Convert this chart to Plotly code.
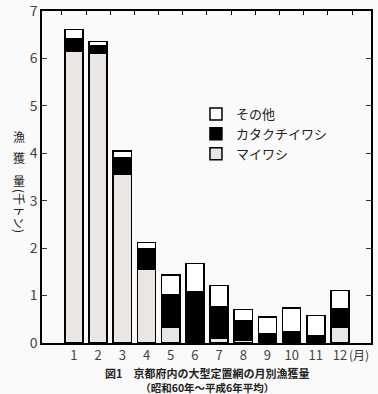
import plotly.graph_objects as go

months = [1, 2, 3, 4, 5, 6, 7, 8, 9, 10, 11, 12]
month_labels = ["1", "2", "3", "4", "5", "6", "7", "8", "9", "10", "11", "12"]
maiwashi = [6.15, 6.12, 3.55, 1.56, 0.34, 0.03, 0.10, 0.05, 0.04, 0.02, 0.01, 0.34]
katakuchi = [0.27, 0.14, 0.35, 0.42, 0.67, 1.05, 0.67, 0.42, 0.15, 0.22, 0.14, 0.39]
sonota = [0.19, 0.10, 0.15, 0.14, 0.42, 0.60, 0.44, 0.24, 0.36, 0.50, 0.43, 0.38]
y_ticks = [0, 1, 2, 3, 4, 5, 6, 7]
top_ticks = [0.5, 1.5, 2.5, 3.5, 4.5, 5.5, 6.5, 7.5, 8.5, 9.5, 10.5, 11.5, 12.5]

FONT = "Noto Sans CJK JP"
W, H = 378, 394
L, R, T, B = 42, 7, 11, 51

fig = go.Figure()
line = dict(color="black", width=1.5)
fig.add_trace(go.Bar(x=months, y=maiwashi, name="マイワシ",
                     marker=dict(color="#e9e6e3", line=line), width=0.75))
fig.add_trace(go.Bar(x=months, y=katakuchi, name="カタクチイワシ",
                     marker=dict(color="#000000", line=line), width=0.75))
fig.add_trace(go.Bar(x=months, y=sonota, name="その他",
                     marker=dict(color="#ffffff", line=line), width=0.75))
# invisible trace to activate the top axis
fig.add_trace(go.Scatter(x=[None], y=[None], xaxis="x2", showlegend=False,
                         hoverinfo="skip"))

xr = [-0.32, 13.28]
fig.update_layout(
    width=W, height=H,
    margin=dict(l=L, r=R, t=T, b=B, autoexpand=False),
    paper_bgcolor="#fafafa", plot_bgcolor="#fafafa",
    barmode="stack", bargap=0.25,
    font=dict(family=FONT, color="#333333", size=13),
    xaxis=dict(range=xr, tickvals=months, ticktext=month_labels,
               showline=True, linecolor="black", linewidth=1.5,
               ticks="", showgrid=False, zeroline=False, automargin=False,
               tickfont=dict(size=13, color="#444444")),
    xaxis2=dict(range=xr, overlaying="x", side="top", tickvals=top_ticks,
                showticklabels=False, ticks="inside", ticklen=4,
                tickcolor="black", showline=True, linecolor="black",
                linewidth=1.5, showgrid=False, zeroline=False, automargin=False),
    yaxis=dict(range=[0, 7.001], tickvals=y_ticks, showline=True,
               linecolor="black", linewidth=1.5, mirror="ticks",
               ticks="inside", ticklen=5, tickcolor="#333333",
               showgrid=False, zeroline=False, automargin=False,
               ticklabeloverflow="allow",
               tickfont=dict(size=14, color="#444444")),
    legend=dict(x=0.468, y=0.735, xanchor="left", yanchor="top",
                traceorder="reversed", bgcolor="rgba(0,0,0,0)",
                font=dict(size=13, color="#222222"), tracegroupgap=0),
    showlegend=True,
)

def py(ypx):
    return (H - B - ypx) / (H - B - T)

ann = []
# y-axis title, stacked vertically
for ch, ypix in [("漁", 136), ("獲", 158), ("量", 180)]:
    ann.append(dict(text=ch, xref="paper", yref="paper", x=0, y=py(ypix),
                    xshift=-23, showarrow=False, font=dict(size=12, color="#222222"),
                    xanchor="center", yanchor="middle"))
ann.append(dict(text="(千トン)", xref="paper", yref="paper", x=0, y=py(211),
                xshift=-23, showarrow=False, textangle=90,
                font=dict(size=12, color="#222222"),
                xanchor="center", yanchor="middle"))
ann.append(dict(text="(月)", xref="x", yref="paper", x=12.8, y=py(354),
                showarrow=False, font=dict(size=12, color="#333333"),
                xanchor="center", yanchor="middle"))
ann.append(dict(text="<b>図1　京都府内の大型定置網の月別漁獲量</b><br>"
                     "<b><span style='font-size:10.5px'>（昭和60年～平成6年平均）</span></b>",
                xref="paper", yref="paper", x=(207 - L) / (W - L - R), y=py(380),
                showarrow=False, font=dict(size=11, color="#222222"),
                align="center", xanchor="center", yanchor="middle"))
fig.update_layout(annotations=ann)

fig.write_html("out.html", config={"displayModeBar": False},
               post_script="document.body.style.margin='0';document.body.style.overflow='hidden';")
